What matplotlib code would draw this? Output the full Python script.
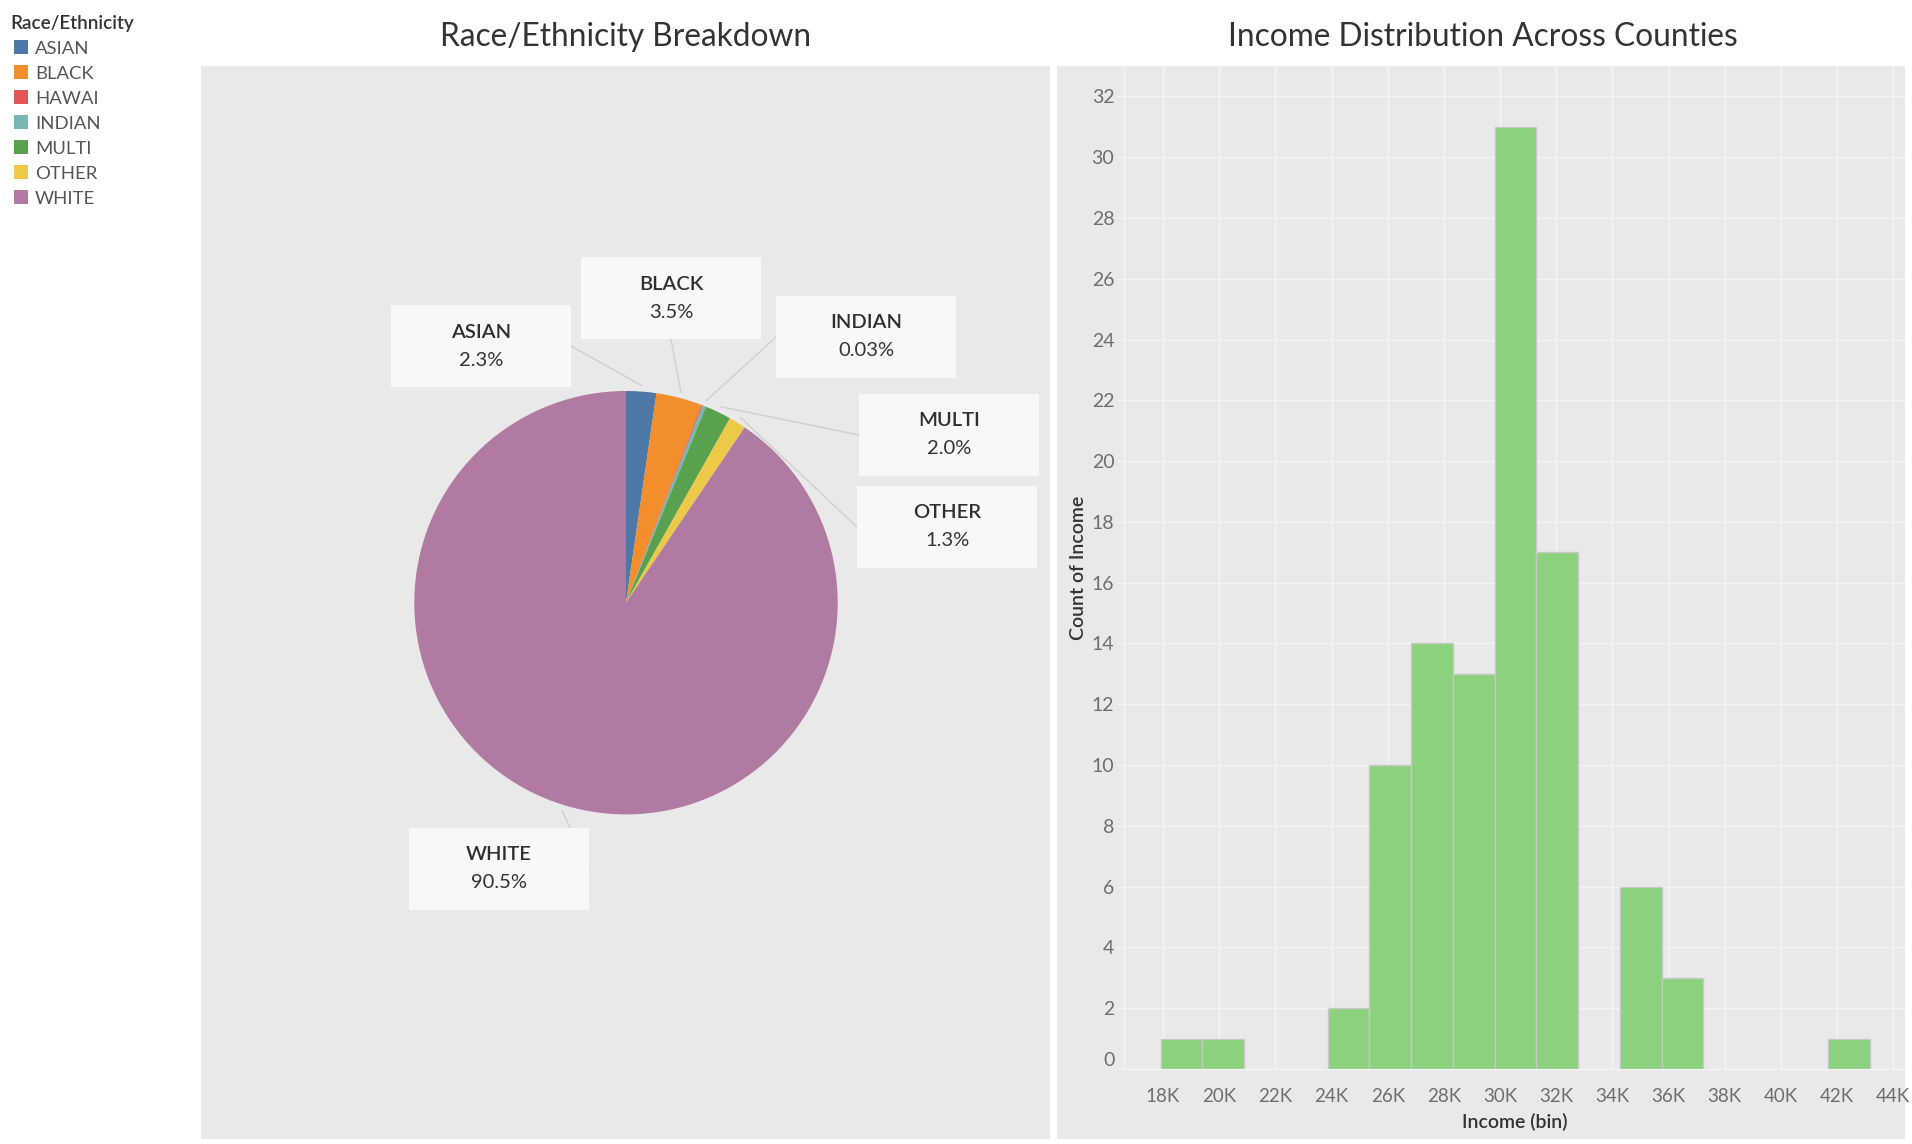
import matplotlib
matplotlib.use('Agg')
import matplotlib.pyplot as plt
from matplotlib.patches import Rectangle
import numpy as np

plt.rcParams['font.family'] = ['Lato', 'DejaVu Sans']

# ---------------- data ----------------
races = ['ASIAN', 'BLACK', 'HAWAI', 'INDIAN', 'MULTI', 'OTHER', 'WHITE']
race_colors = ['#4e79a7', '#f28e2b', '#e15759', '#76b7b2', '#59a14f', '#edc948', '#b07aa1']
race_share = [2.3, 3.5, 0.1, 0.27, 2.0, 1.3, 90.5]
labeled_races = ['ASIAN', 'BLACK', 'INDIAN', 'MULTI', 'OTHER', 'WHITE']
labeled_pct = ['2.3%', '3.5%', '0.03%', '2.0%', '1.3%', '90.5%']

income_bin_start = 17920
income_bin_width = 1486
income_counts = [1, 1, 0, 0, 2, 10, 14, 13, 31, 17, 0, 6, 3, 0, 0, 0, 1]
income_ticks = [18000, 20000, 22000, 24000, 26000, 28000, 30000, 32000,
                34000, 36000, 38000, 40000, 42000, 44000]
income_tick_labels = ['18K', '20K', '22K', '24K', '26K', '28K', '30K', '32K',
                      '34K', '36K', '38K', '40K', '42K', '44K']
count_ticks = list(range(0, 33, 2))

# ---------------- layout ----------------
W, H = 1912, 1144
BG = '#e9e9e9'
GRID = '#f5f5f5'
fig = plt.figure(figsize=(W / 100, H / 100), dpi=100)
fig.patch.set_facecolor('white')

ov = fig.add_axes([0, 0, 1, 1])
ov.set_xlim(0, W)
ov.set_ylim(H, 0)
ov.axis('off')
ov.set_zorder(-1)

# panels
ov.add_patch(Rectangle((201, 66), 849, 1073, fc=BG, ec='none'))
ov.add_patch(Rectangle((1057, 66), 848, 1073, fc=BG, ec='none'))

# titles
ov.text(625.5, 37, 'Race/Ethnicity Breakdown', ha='center', va='center',
        fontsize=22.8, color='#333333')
ov.text(1483, 37, 'Income Distribution Across Counties', ha='center', va='center',
        fontsize=22.8, color='#333333')

# legend
ov.text(10, 24, 'Race/Ethnicity', ha='left', va='center', fontsize=13.6,
        fontweight='semibold', color='#333333')
for i, (name, col) in enumerate(zip(races, race_colors)):
    yc = 47 + 25 * i
    ov.add_patch(Rectangle((14, yc - 7), 14, 14, fc=col, ec='none'))
    ov.text(35, yc + 2, name, ha='left', va='center', fontsize=13.3, color='#555555')

# ---------------- pie ----------------
pax = fig.add_axes([201 / W, 1 - 1139 / H, 849 / W, 1073 / H])
pax.set_facecolor('none')
cx, cy, r = 626, H - 602.7, 211.7
pax.pie(race_share, colors=race_colors, startangle=90, counterclock=False,
        center=(cx, cy), radius=r, frame=True, wedgeprops=dict(linewidth=0))
pax.set_xlim(201, 1050)
pax.set_ylim(H - 1139, H - 66)
pax.set_xticks([])
pax.set_yticks([])
for s in pax.spines.values():
    s.set_visible(False)

total = sum(race_share)
cum = np.cumsum([0] + race_share[:-1])
mid_angle = {name: np.deg2rad(360 * (c + v / 2) / total)
             for name, c, v in zip(races, cum, race_share)}

box_centers = {'ASIAN': (481, 346), 'BLACK': (671, 298), 'INDIAN': (866, 337),
               'MULTI': (949, 435), 'OTHER': (947, 527), 'WHITE': (499, 869)}
bw, bh = 180, 82
for name, pct in zip(labeled_races, labeled_pct):
    bx, by = box_centers[name]
    byu = H - by
    pax.add_patch(Rectangle((bx - bw / 2, byu - bh / 2), bw, bh, fc='#f8f8f8',
                            ec='none', zorder=5))
    pax.text(bx, byu + 14, name, ha='center', va='center', fontsize=14.5,
             color='#2f2f2f', fontweight='semibold', zorder=6)
    pax.text(bx, byu - 14, pct, ha='center', va='center', fontsize=14.5,
             color='#333333', zorder=6)
    a = mid_angle[name]
    px_, py_ = cx + (r + 6) * np.sin(a), cy + (r + 6) * np.cos(a)
    cands = [(bx + bw / 2, byu), (bx - bw / 2, byu), (bx, byu + bh / 2), (bx, byu - bh / 2)]
    ex, ey = min(cands, key=lambda p: (p[0] - px_) ** 2 + (p[1] - py_) ** 2)
    pax.plot([ex, px_], [ey, py_], color='#cfcfcf', lw=1, zorder=4)

# ---------------- histogram ----------------
hax = fig.add_axes([1124 / W, 1 - 1069 / H, 781 / W, 1003 / H])
hax.set_facecolor('none')
edges = [income_bin_start + i * income_bin_width for i in range(len(income_counts))]
lefts = [e for e, c in zip(edges, income_counts) if c > 0]
heights = [c for c in income_counts if c > 0]
hax.bar(lefts, heights, width=income_bin_width, align='edge', color='#8cd17d',
        edgecolor='#c8c8c8', linewidth=1, zorder=3)
hax.set_xlim(16611, 44420)
hax.set_ylim(0, 33)
hax.set_xticks(income_ticks)
hax.set_xticklabels(income_tick_labels)
hax.set_yticks(count_ticks)
hax.grid(True, color=GRID, linewidth=1, zorder=0)
hax.set_axisbelow(True)
for k in ['top', 'right']:
    hax.spines[k].set_visible(False)
for k in ['left', 'bottom']:
    hax.spines[k].set_color(GRID)
    hax.spines[k].set_linewidth(1)
hax.tick_params(axis='y', length=5, color=GRID, labelcolor='#6e6e6e',
                labelsize=14, pad=2)
hax.tick_params(axis='x', length=0, labelcolor='#6e6e6e', labelsize=13.5, pad=14)
hax.get_yticklabels()[0].set_va('bottom')
hax.set_xlabel('Income (bin)', fontsize=14, color='#333333', fontweight='semibold',
               va='center')
hax.xaxis.set_label_coords(0.5, -53 / 1003)
hax.set_ylabel('Count of Income', fontsize=14, color='#333333', fontweight='semibold',
               va='center')
hax.yaxis.set_label_coords(-46 / 781, 0.5)

fig.savefig('out.png', dpi=100, facecolor='white')
